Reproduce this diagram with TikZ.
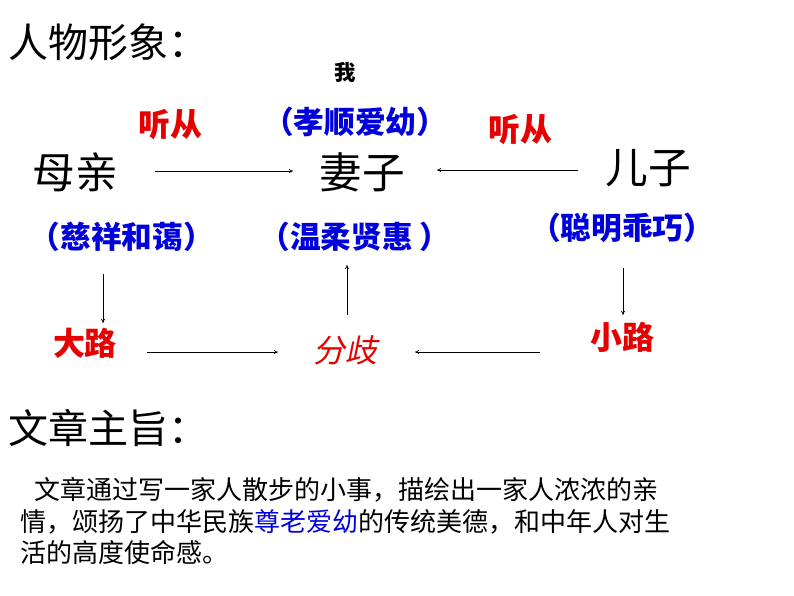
\documentclass[tikz,border=0pt]{standalone}
\usepackage{fontspec}
\usetikzlibrary{arrows.meta}
\setmainfont{Noto Sans CJK SC}
\newfontfamily\cjkslant[FakeSlant=0.2]{Noto Sans CJK SC}
\definecolor{myblue}{RGB}{0,0,220}
\definecolor{myred}{RGB}{230,0,0}
\begin{document}
\begin{tikzpicture}[x=0.75pt,y=-0.75pt,
  big/.style={font=\fontsize{32}{34}\selectfont},
  lbl/.style={font=\bfseries\fontsize{23}{26}\selectfont,text=myblue},
  red/.style={font=\bfseries\fontsize{24}{26}\selectfont,text=myred},
  arr/.style={-{To[length=3pt,width=3pt]},line width=0.5pt}]
\useasboundingbox (0,0) rectangle (794,596);
\node[anchor=west,font=\fontsize{30}{32}\selectfont] (t1) at (4,42) {人物形象：};
\node[font=\bfseries\fontsize{16}{18}\selectfont] (wo) at (345,72) {我};
\node[red] (tc1) at (170,125) {听从};
\node[lbl] (xs) at (355,122) {（孝顺爱幼）};
\node[red] (tc2) at (520,130) {听从};
\node[big] (mq) at (75,172) {母亲};
\node[big] (qz) at (362,172) {妻子};
\node[big] (ez) at (648,168) {儿子};
\node[lbl] (cx) at (122,237) {（慈祥和蔼）};
\node[lbl] (wr) at (355,237) {（温柔贤惠\ ）};
\node[lbl] (cm) at (622,228) {（聪明乖巧）};
\node[red] (dl) at (85,343) {大路};
\node[red,font=\cjkslant\fontsize{24}{26}\selectfont] (fq) at (345,350) {分歧};
\node[red] (xl) at (622,337) {小路};
\coordinate (a1) at (155,171); \coordinate (a2) at (293,171);
\coordinate (b1) at (578,170); \coordinate (b2) at (437,170);
\draw[arr] (a1) -- (a2);
\draw[arr] (b1) -- (b2);
\coordinate (c1) at (103,274); \coordinate (c2) at (103,323);
\coordinate (d1) at (347,315); \coordinate (d2) at (347,265);
\coordinate (e1) at (623,268); \coordinate (e2) at (623,315);
\draw[arr] (c1) -- (c2);
\draw[arr] (d1) -- (d2);
\draw[arr] (e1) -- (e2);
\coordinate (f1) at (147,352); \coordinate (f2) at (278,352);
\coordinate (g1) at (540,352); \coordinate (g2) at (415,352);
\draw[arr] (f1) -- (f2);
\draw[arr] (g1) -- (g2);
\node[anchor=west,font=\fontsize{30}{32}\selectfont] (t2) at (4,428) {文章主旨：};
\node[anchor=west,font=\fontsize{19.5}{22}\selectfont] (l1) at (30,490) {文章通过写一家人散步的小事，描绘出一家人浓浓的亲};
\node[anchor=west,font=\fontsize{19.5}{22}\selectfont] (l2) at (16,522) {情，颂扬了中华民族\textcolor{myblue}{尊老爱幼}的传统美德，和中年人对生};
\node[anchor=west,font=\fontsize{19.5}{22}\selectfont] (l3) at (16,553) {活的高度使命感。};
\end{tikzpicture}
\end{document}
